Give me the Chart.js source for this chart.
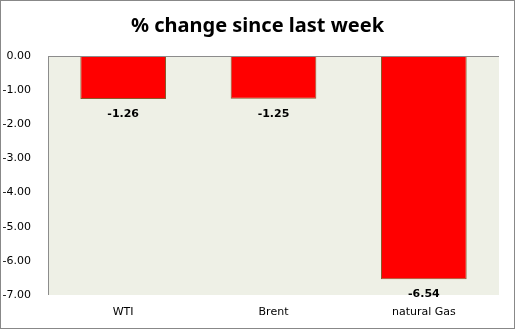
<!DOCTYPE html>
<html><head><meta charset="utf-8">
<script src="https://cdn.jsdelivr.net/npm/chart.js@4/dist/chart.umd.min.js"></script>
<style>html,body{margin:0;padding:0;background:#fff}#wrap{width:515px;height:329px;position:relative}</style>
</head><body><div id="wrap"><canvas id="c" width="515" height="329"></canvas></div>
<script>
const categories = ["WTI", "Brent", "natural Gas"];
const changes = [-1.26, -1.25, -6.54];
const yTicks = [0, -1, -2, -3, -4, -5, -6, -7];
const titleText = "% change since last week";

const decor = {
  id: 'decor',
  beforeDraw(chart) {
    const {ctx, chartArea: a} = chart;
    ctx.save();
    ctx.fillStyle = '#fff';
    ctx.fillRect(0, 0, chart.width, chart.height);
    ctx.fillStyle = '#EEF0E6';
    ctx.fillRect(a.left, a.top, a.right - a.left, a.bottom - a.top);
    ctx.fillStyle = '#000';
    ctx.font = 'bold 20px "Noto Sans", sans-serif';
    ctx.textAlign = 'center';
    ctx.textBaseline = 'middle';
    ctx.fillText(titleText, chart.width / 2, 26);
    ctx.restore();
  },
  afterDatasetsDraw(chart) {
    const {ctx, chartArea: a} = chart;
    const y = chart.scales.y;
    ctx.save();
    ctx.strokeStyle = '#8c8c8c';
    ctx.lineWidth = 1;
    const y0 = Math.round(y.getPixelForValue(0)) + 0.5;
    ctx.beginPath();
    ctx.moveTo(a.left, y0); ctx.lineTo(a.right, y0);
    ctx.moveTo(a.left + 0.5, a.top); ctx.lineTo(a.left + 0.5, a.bottom);
    ctx.stroke();
    const meta = chart.getDatasetMeta(0);
    ctx.fillStyle = '#000';
    ctx.font = 'bold 11px "DejaVu Sans", sans-serif';
    ctx.textAlign = 'center';
    ctx.textBaseline = 'middle';
    meta.data.forEach((bar, i) => {
      ctx.fillText(changes[i].toFixed(2), bar.x, bar.y + 15);
    });
    ctx.strokeStyle = '#888';
    ctx.strokeRect(0.5, 0.5, chart.width - 1, chart.height - 1);
    ctx.restore();
  }
};

new Chart(document.getElementById('c'), {
  type: 'bar',
  data: {
    labels: categories,
    datasets: [{
      data: changes,
      backgroundColor: '#FF0000',
      borderColor: '#8B5A2B',
      borderWidth: 1,
      barPercentage: 0.57,
      categoryPercentage: 1.0,
      borderSkipped: false
    }]
  },
  options: {
    responsive: false,
    animation: false,
    devicePixelRatio: 1,
    layout: {padding: {left: 0, right: 16, top: 56, bottom: 0}},
    plugins: {
      legend: {display: false},
      tooltip: {enabled: false},
      title: {display: false}
    },
    scales: {
      x: {
        grid: {display: false},
        border: {display: false},
        ticks: {color: '#000', font: {family: '"DejaVu Sans", sans-serif', size: 11}, padding: 3},
        afterFit(s) { s.height = 34; }
      },
      y: {
        min: -7, max: 0,
        grid: {display: false},
        border: {display: false},
        afterBuildTicks(s) { s.ticks = yTicks.map(v => ({value: v})); },
        ticks: {
          color: '#000',
          font: {family: '"DejaVu Sans", sans-serif', size: 11},
          padding: 9,
          callback: v => v.toFixed(2)
        },
        afterFit(s) { s.width = 48; }
      }
    }
  },
  plugins: [decor]
});
</script></body></html>
